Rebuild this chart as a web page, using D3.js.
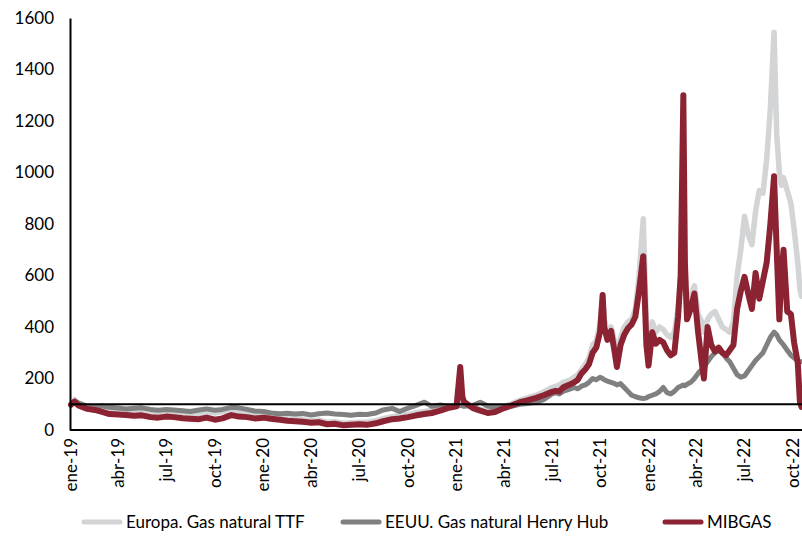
<!DOCTYPE html>
<html>
<head>
<meta charset="utf-8">
<script src="https://cdn.jsdelivr.net/npm/d3@7"></script>
<style>
  body { margin: 0; background: #fff; }
  svg text { font-family: "Gill Sans MT", "Gill Sans", Lato, sans-serif; fill: #000; }
</style>
</head>
<body>
<div id="chart"></div>
<script>
// fechas de las observaciones
var dates = [
  "2019-01-01","2019-01-08","2019-01-15","2019-02-01","2019-02-15","2019-03-01","2019-03-15","2019-04-01","2019-04-15","2019-05-01","2019-05-15","2019-06-01","2019-06-15","2019-07-01","2019-07-15","2019-08-01","2019-08-15","2019-09-01","2019-09-15","2019-10-01","2019-10-15","2019-11-01","2019-11-15","2019-12-01","2019-12-15",
  "2020-01-01","2020-01-15","2020-02-01","2020-02-15","2020-03-01","2020-03-15","2020-04-01","2020-04-15","2020-05-01","2020-05-15","2020-06-01","2020-06-15","2020-07-01","2020-07-15","2020-08-01","2020-08-15","2020-09-01","2020-09-15","2020-10-01","2020-10-15","2020-11-01","2020-11-15","2020-12-01","2020-12-15",
  "2021-01-01","2021-01-08","2021-01-12","2021-01-15","2021-02-01","2021-02-15","2021-03-01","2021-03-15","2021-04-01","2021-04-15","2021-05-01","2021-05-15","2021-06-01","2021-06-15",
  "2021-07-01","2021-07-08","2021-07-15","2021-07-22","2021-07-29","2021-08-05","2021-08-12","2021-08-19","2021-08-26","2021-09-02","2021-09-09","2021-09-16","2021-09-23","2021-09-30","2021-10-05","2021-10-08","2021-10-14","2021-10-21","2021-10-28","2021-11-01","2021-11-08","2021-11-15","2021-11-22","2021-11-29","2021-12-06","2021-12-13","2021-12-21","2021-12-27","2021-12-31",
  "2022-01-07","2022-01-14","2022-01-21","2022-01-28","2022-02-04","2022-02-11","2022-02-18","2022-02-25","2022-03-02","2022-03-07","2022-03-10","2022-03-14","2022-03-21","2022-03-28","2022-04-04","2022-04-11","2022-04-15","2022-04-22","2022-04-29","2022-05-06","2022-05-13","2022-05-20","2022-05-27","2022-06-03","2022-06-10","2022-06-17","2022-06-24",
  "2022-07-01","2022-07-08","2022-07-15","2022-07-22","2022-07-29","2022-08-05","2022-08-12","2022-08-19","2022-08-26","2022-08-31","2022-09-05","2022-09-09","2022-09-13","2022-09-20","2022-09-27","2022-10-03","2022-10-10","2022-10-14","2022-10-17"
];

// Europa. Gas natural TTF
var ttf = [
  100,118,100, 90,85, 80,76, 74,72, 70,72, 66,64, 68,66, 62,60, 64,70, 66,72, 76,72, 66,60,
  58,54, 50,46, 44,40, 36,38, 30,32, 26,28, 30,30, 36,44, 52,56, 60,66, 72,76, 82,90,
  95,115,102,98, 88,80, 76,80, 92,102, 115,125, 135,148,
  165,170,175,185,190,195,205,215,235,255,280,330,345,410,520,430,380,400,340,300,360,400,420,430,470,600,820,420,350,
  420,380,400,390,370,360,380,470,600,820,560,450,520,560,450,420,380,430,450,460,430,400,390,380,420,600,700,
  830,760,720,850,930,920,1050,1250,1545,1150,1000,950,980,930,880,780,650,550,520
];

// EEUU. Gas natural Henry Hub
var henryHub = [
  100,112,105, 92,88, 93,88, 85,82, 84,86, 80,77, 80,78, 75,72, 78,82, 77,80, 88,86, 80,74,
  72,66, 63,65, 62,64, 58,63, 66,62, 60,57, 61,60, 66,78, 84,72, 85,95, 108,92, 97,92,
  92,96,94,92, 96,108, 93,88, 90,92, 100,103, 108,118,
  140,145,140,150,155,160,165,160,170,175,185,200,195,205,200,195,190,185,180,175,180,165,150,135,130,125,122,125,130,
  135,140,150,165,145,140,150,165,170,175,172,178,185,200,220,235,245,265,285,300,310,300,280,265,240,215,205,
  210,230,250,270,285,300,330,360,380,370,350,340,330,310,290,280,270,265,265
];

// MIBGAS
var mibgas = [
  98,110,95, 82,78, 70,62, 60,58, 55,57, 50,48, 52,50, 46,44, 42,48, 40,45, 58,52, 50,45,
  48,44, 40,36, 34,32, 28,30, 22,24, 18,20, 22,20, 26,34, 42,45, 50,56, 62,66, 75,85,
  92,245,130,110, 85,75, 66,70, 85,95, 108,115, 125,135,
  148,152,150,165,172,178,185,195,220,235,255,300,320,380,524,400,350,385,300,245,330,370,395,410,440,540,675,330,250,
  380,335,350,340,310,290,300,440,600,1300,650,430,470,530,380,260,200,400,330,305,320,300,290,310,330,470,540,
  595,530,470,610,510,580,650,800,985,700,430,600,700,460,450,340,260,110,90
];

var yTicks = [0, 200, 400, 600, 800, 1000, 1200, 1400, 1600];
var xTickDates = ["2019-01-01","2019-04-01","2019-07-01","2019-10-01","2020-01-01","2020-04-01","2020-07-01","2020-10-01",
                  "2021-01-01","2021-04-01","2021-07-01","2021-10-01","2022-01-01","2022-04-01","2022-07-01","2022-10-01"];
var xTickLabels = ["ene-19","abr-19","jul-19","oct-19","ene-20","abr-20","jul-20","oct-20",
                   "ene-21","abr-21","jul-21","oct-21","ene-22","abr-22","jul-22","oct-22"];

var seriesNames = ["Europa. Gas natural TTF", "EEUU. Gas natural Henry Hub", "MIBGAS"];
var seriesColors = ["#d3d4d6", "#808080", "#8b2332"];
var seriesWidths = [5.5, 5, 6];

var parse = d3.timeParse("%Y-%m-%d");
var width = 802, height = 546;
var margin = { left: 70, right: 802, top: 18, bottom: 430 };

var svg = d3.select("#chart").append("svg")
    .attr("width", width)
    .attr("height", height);

var x = d3.scaleTime()
    .domain([parse("2019-01-01"), parse("2022-10-18")])
    .range([margin.left + 1, margin.right]);

var y = d3.scaleLinear()
    .domain([0, 1600])
    .range([margin.bottom, margin.top]);

var allSeries = [ttf, henryHub, mibgas];

// lineas
var line = d3.line()
    .x(function (d) { return x(d.date); })
    .y(function (d) { return y(d.value); });

allSeries.forEach(function (values, k) {
    var rows = dates.map(function (d, i) { return { date: parse(d), value: values[i] }; });
    svg.append("path")
        .datum(rows)
        .attr("fill", "none")
        .attr("stroke", seriesColors[k])
        .attr("stroke-width", seriesWidths[k])
        .attr("stroke-linejoin", "round")
        .attr("stroke-linecap", "round")
        .attr("d", line);
});

// linea base 100
svg.append("line")
    .attr("x1", margin.left).attr("x2", margin.right)
    .attr("y1", y(100)).attr("y2", y(100))
    .attr("stroke", "#000")
    .attr("stroke-width", 2);

// eje y
var yAxis = d3.axisLeft(y).tickValues(yTicks).tickSize(0).tickSizeOuter(0).tickPadding(16)
    .tickFormat(d3.format("d"));
var gy = svg.append("g")
    .attr("transform", "translate(" + margin.left + ",0)")
    .call(yAxis);
gy.select(".domain").attr("stroke", "#000").attr("stroke-width", 2);
gy.selectAll("text").style("font-size", "17px");

// eje x
var xAxis = d3.axisBottom(x)
    .tickValues(xTickDates.map(parse))
    .tickFormat(function (d, i) { return xTickLabels[i]; })
    .tickSize(0).tickSizeOuter(0);
var gx = svg.append("g")
    .attr("transform", "translate(0," + margin.bottom + ")")
    .call(xAxis);
gx.select(".domain").attr("stroke", "#000").attr("stroke-width", 2)
    .attr("d", "M" + margin.left + ",0H" + margin.right);
gx.selectAll("text")
    .attr("x", -8)
    .attr("y", 0)
    .attr("dy", "0.3em")
    .attr("transform", "rotate(-90)")
    .style("text-anchor", "end")
    .style("font-size", "17px");

// leyenda
var legendX = [84, 343, 665];
var legend = svg.append("g").attr("transform", "translate(0,522)");
seriesNames.forEach(function (name, k) {
    legend.append("line")
        .attr("x1", legendX[k]).attr("x2", legendX[k] + 36)
        .attr("y1", 0).attr("y2", 0)
        .attr("stroke", seriesColors[k])
        .attr("stroke-width", 5)
        .attr("stroke-linecap", "round");
    legend.append("text")
        .attr("x", legendX[k] + 42)
        .attr("y", 0)
        .attr("dy", "0.35em")
        .style("font-size", "17px")
        .text(name);
});
</script>
</body>
</html>
